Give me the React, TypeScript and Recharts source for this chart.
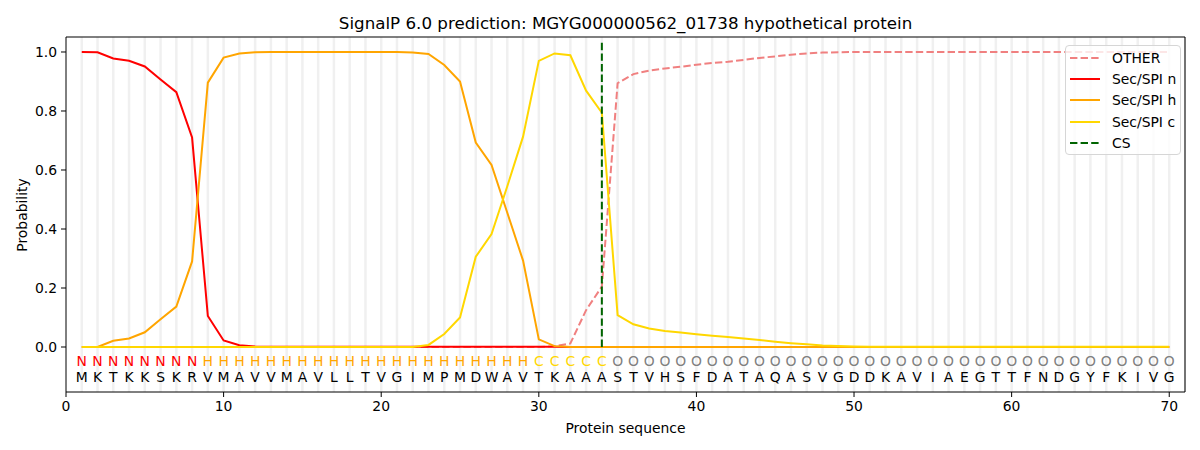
import {
  ComposedChart,
  Line,
  Scatter,
  XAxis,
  YAxis,
  ReferenceLine,
} from "recharts";

const sequence = "MKTKKSKRVMAVVMAVLLTVGIMPMDWAVTKAAASTVHSFDATAQASVGDDKAVIAEGTTFNDGYFKIVG".split("");
const regions = "NNNNNNNNHHHHHHHHHHHHHHHHHHHHHCCCCCOOOOOOOOOOOOOOOOOOOOOOOOOOOOOOOOOOOO".split("");

const other = [
  0, 0, 0, 0, 0, 0, 0, 0, 0, 0,
  0, 0, 0, 0, 0, 0, 0, 0, 0, 0,
  0, 0, 0, 0, 0, 0, 0, 0, 0, 0,
  0.003, 0.012, 0.125, 0.205, 0.894, 0.925, 0.937, 0.944, 0.95, 0.957,
  0.963, 0.967, 0.973, 0.98, 0.985, 0.991, 0.995, 0.998, 0.999, 1.0,
  1.0, 1.0, 1.0, 1.0, 1.0, 1.0, 1.0, 1.0, 1.0, 1.0,
  1.0, 1.0, 1.0, 1.0, 1.0, 1.0, 1.0, 1.0, 1.0, 1.0,
];
const secN = [
  1.0, 0.999, 0.978, 0.97, 0.951, 0.907, 0.864, 0.71, 0.105, 0.022,
  0.006, 0.002, 0.001, 0.001, 0.001, 0.001, 0.001, 0.001, 0.001, 0.001,
  0.001, 0.001, 0.001, 0.001, 0.001, 0.001, 0.001, 0.001, 0.001, 0.001,
  0.001, 0, 0, 0, 0, 0, 0, 0, 0, 0,
  0, 0, 0, 0, 0, 0, 0, 0, 0, 0,
  0, 0, 0, 0, 0, 0, 0, 0, 0, 0,
  0, 0, 0, 0, 0, 0, 0, 0, 0, 0,
];
const secH = [
  0, 0, 0.021, 0.029, 0.05, 0.094, 0.137, 0.29, 0.896, 0.981,
  0.995, 0.999, 1.0, 1.0, 1.0, 1.0, 1.0, 1.0, 1.0, 1.0,
  1.0, 0.998, 0.993, 0.956, 0.9, 0.693, 0.617, 0.455, 0.293, 0.026,
  0.003, 0, 0, 0, 0, 0, 0, 0, 0, 0,
  0, 0, 0, 0, 0, 0, 0, 0, 0, 0,
  0, 0, 0, 0, 0, 0, 0, 0, 0, 0,
  0, 0, 0, 0, 0, 0, 0, 0, 0, 0,
];
const secC = [
  0, 0, 0, 0, 0, 0, 0, 0, 0, 0,
  0, 0, 0, 0, 0, 0, 0, 0, 0, 0,
  0, 0, 0.007, 0.044, 0.1, 0.306, 0.383, 0.545, 0.713, 0.97,
  0.995, 0.989, 0.869, 0.794, 0.108, 0.077, 0.063, 0.054, 0.049, 0.043,
  0.038, 0.034, 0.029, 0.024, 0.018, 0.013, 0.009, 0.005, 0.003, 0.002,
  0.001, 0.001, 0.001, 0.001, 0.001, 0.001, 0.001, 0.001, 0.001, 0.001,
  0.001, 0.001, 0.001, 0.001, 0.001, 0.001, 0.001, 0.001, 0.001, 0.001,
];
const cleavageSite = 34;
const xTicks = [0, 10, 20, 30, 40, 50, 60, 70];
const yTicks = [0, 0.2, 0.4, 0.6, 0.8, 1.0];

const regionColors: Record<string, string> = {
  N: "#ff0000",
  H: "#ffa500",
  C: "#ffd700",
  O: "#808080",
};

const positions = sequence.map((_, i) => i + 1);
const data = positions.map((pos, i) => ({
  pos,
  other: other[i],
  n: secN[i],
  h: secH[i],
  c: secC[i],
}));
const regionPoints = positions.map((pos, i) => ({
  pos,
  y: -0.047,
  ch: regions[i],
  color: regionColors[regions[i]],
}));
const residuePoints = positions.map((pos, i) => ({
  pos,
  y: -0.101,
  ch: sequence[i],
  color: "#000000",
}));

const FONT = "'DejaVu Sans', sans-serif";
const DASH = "7.4 3.2";

const legendItems = [
  { name: "OTHER", color: "#f08080", dash: DASH },
  { name: "Sec/SPI n", color: "#ff0000" },
  { name: "Sec/SPI h", color: "#ffa500" },
  { name: "Sec/SPI c", color: "#ffd700" },
  { name: "CS", color: "#006400", dash: DASH },
];

const LetterShape = (props: any) => {
  const { cx, cy, payload } = props;
  return (
    <text
      x={cx}
      y={cy}
      textAnchor="middle"
      dominantBaseline="central"
      fontSize={13.9}
      fontFamily={FONT}
      fill={payload.color}
    >
      {payload.ch}
    </text>
  );
};

// legend drawn as an overlay so it does not take room from the plot
const LegendBox = () => (
  <div
    style={{
      position: "absolute",
      left: 1065,
      top: 45,
      width: 116,
      height: 110,
      border: "1px solid #d6d6d6",
      borderRadius: 4,
      background: "rgba(255,255,255,0.8)",
      paddingTop: 1,
      boxSizing: "border-box",
      fontFamily: FONT,
      fontSize: 13.9,
      color: "#000",
    }}
  >
    {legendItems.map((it) => (
      <div key={it.name} style={{ display: "flex", alignItems: "center", height: 21.4 }}>
        <svg width={46} height={10} style={{ flex: "none" }}>
          <line
            x1={4}
            x2={34}
            y1={5}
            y2={5}
            stroke={it.color}
            strokeWidth={2}
            strokeDasharray={it.dash}
          />
        </svg>
        <span>{it.name}</span>
      </div>
    ))}
  </div>
);

const App = () => {
  return (
    <div style={{ position: "absolute", left: 0, top: 0, width: 1200, height: 450, background: "#fff" }}>
      <ComposedChart
        width={1200}
        height={450}
        data={data}
        margin={{ top: 37, right: 15, bottom: 17, left: 6 }}
      >
        {positions.map((p) => (
          <ReferenceLine key={`g${p}`} x={p} stroke="#f0f0f0" strokeWidth={2.5} />
        ))}
        <XAxis
          dataKey="pos"
          type="number"
          domain={[0, 71]}
          allowDataOverflow
          ticks={xTicks}
          interval={0}
          tickSize={5}
          tickMargin={4}
          height={41}
          stroke="#000"
          tick={{ fill: "#000", fontSize: 13.9, fontFamily: FONT }}
          label={{
            value: "Protein sequence",
            position: "insideBottom",
            offset: 0,
            fill: "#000",
            fontSize: 13.9,
            fontFamily: FONT,
          }}
        />
        <YAxis
          type="number"
          domain={[-0.1525, 1.0508]}
          allowDataOverflow
          ticks={yTicks}
          interval={0}
          tickSize={5}
          tickMargin={4}
          width={60}
          stroke="#000"
          tickFormatter={(v: number) => v.toFixed(1)}
          tick={{ fill: "#000", fontSize: 13.9, fontFamily: FONT }}
        />
        <ReferenceLine y={1.0508} stroke="#000" strokeWidth={1.1} />
        <ReferenceLine x={71} stroke="#000" strokeWidth={1.1} />
        <Line
          type="linear"
          dataKey="other"
          name="OTHER"
          stroke="#f08080"
          strokeWidth={2}
          strokeDasharray={DASH}
          dot={false}
          isAnimationActive={false}
        />
        <Line
          type="linear"
          dataKey="n"
          name="Sec/SPI n"
          stroke="#ff0000"
          strokeWidth={2}
          dot={false}
          isAnimationActive={false}
        />
        <Line
          type="linear"
          dataKey="h"
          name="Sec/SPI h"
          stroke="#ffa500"
          strokeWidth={2}
          dot={false}
          isAnimationActive={false}
        />
        <Line
          type="linear"
          dataKey="c"
          name="Sec/SPI c"
          stroke="#ffd700"
          strokeWidth={2}
          dot={false}
          isAnimationActive={false}
        />
        <ReferenceLine
          segment={[
            { x: cleavageSite, y: 0 },
            { x: cleavageSite, y: 1.036 },
          ]}
          stroke="#006400"
          strokeWidth={2}
          strokeDasharray={DASH}
        />
        <Scatter data={regionPoints} dataKey="y" shape={<LetterShape />} isAnimationActive={false} />
        <Scatter data={residuePoints} dataKey="y" shape={<LetterShape />} isAnimationActive={false} />
      </ComposedChart>
      <LegendBox />
      <svg
        width={1200}
        height={450}
        style={{ position: "absolute", left: 0, top: 0, pointerEvents: "none" }}
      >
        <text
          x={625.6}
          y={23}
          textAnchor="middle"
          dominantBaseline="central"
          fontSize={16.7}
          fontFamily={FONT}
          fill="#000"
        >
          SignalP 6.0 prediction: MGYG000000562_01738 hypothetical protein
        </text>
        <text
          transform="translate(22,215) rotate(-90)"
          textAnchor="middle"
          dominantBaseline="central"
          fontSize={13.9}
          fontFamily={FONT}
          fill="#000"
        >
          Probability
        </text>
      </svg>
    </div>
  );
};

export default App;
